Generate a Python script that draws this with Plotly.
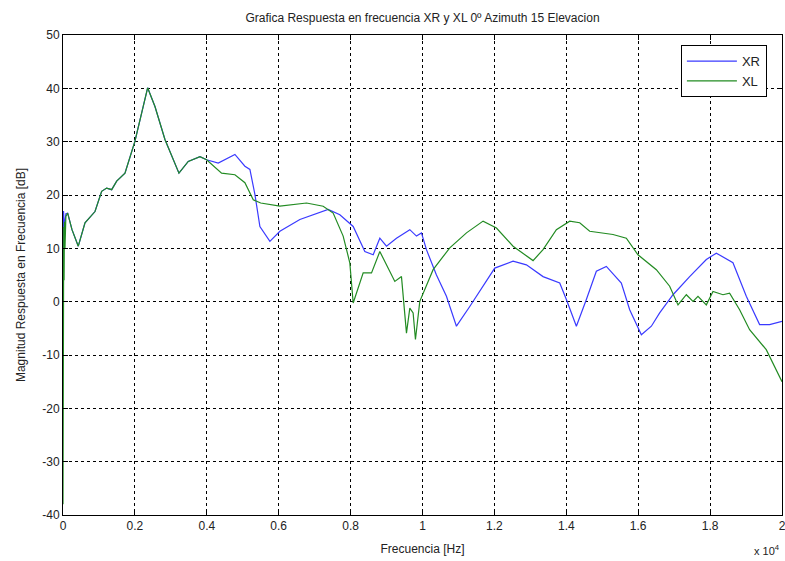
import plotly.graph_objects as go

# XR (right ear) response
xr_freq = [0, 15, 40, 80, 130, 250, 425, 612, 890, 1075, 1214, 1354, 1493, 1724, 2002,
           2354, 2558, 2836, 3225, 3484, 3809, 3994, 4318, 4782, 5060, 5199, 5338, 5477,
           5755, 6033, 6589, 7376, 7701, 8072, 8396, 8628, 8813, 8998, 9276, 9647, 9832,
           9971, 10110, 10388, 10666, 10944, 11315, 11685, 12010, 12519, 12890, 13353,
           13817, 14002, 14280, 14558, 14836, 15114, 15531, 15763, 16088, 16366, 16597,
           16968, 17431, 17895, 18173, 18636, 19007, 19377, 19655, 20000]
xr_db = [1.5, 17, 14, 16.5, 16.6, 13.5, 10.4, 14.8, 16.9, 20.7, 21.3, 21, 22.6, 24.1, 30.1,
         40.1, 36.6, 30.4, 24.1, 26.3, 27.2, 26.6, 26.0, 27.6, 25.4, 24.8, 20.1, 14.1,
         11.3, 13.2, 15.4, 17.3, 16.3, 14.1, 9.4, 8.8, 11.9, 10.4, 11.9, 13.5, 12.3,
         12.9, 9.75, 5.0, 1.0, -4.6, -0.9, 2.9, 6.3, 7.6, 6.9, 4.7,
         3.5, 0.4, -4.6, 0.4, 5.7, 6.6, 3.5, -1.5, -6.2, -4.6, -2.1,
         1.3, 4.7, 7.9, 9.1, 7.3, 1.0, -4.3, -4.3, -3.7]

# XL (left ear) response
xl_freq = [0, 10, 20, 30, 40, 55, 80, 130, 250, 425, 612, 890, 1075, 1214, 1354, 1493,
           1724, 2002, 2354, 2558, 2836, 3225, 3484, 3809, 3994, 4411, 4782, 5060, 5292,
           5500, 6033, 6774, 7237, 7515, 7793, 7978, 8072, 8350, 8582, 8813, 9230, 9415,
           9554, 9647, 9739, 9804, 9925, 10295, 10759, 11223, 11685, 12057, 12519, 12890,
           13075, 13353, 13724, 14095, 14373, 14651, 15299, 15670, 15994, 16505, 16875,
           17107, 17339, 17525, 17663, 17895, 18080, 18358, 18543, 18821, 19099, 19562, 20000]
xl_db = [-38, 2, 14, 4, 15, 10, 16, 16.6, 13.5, 10.4, 14.8, 16.9, 20.7, 21.3, 21, 22.6,
         24.1, 30.1, 40.1, 36.6, 30.4, 24.1, 26.3, 27.2, 26.6, 24.1, 23.8, 22.3, 19.1,
         18.5, 17.9, 18.5, 17.9, 16.6, 12.3, 7.3, -0.25, 5.4, 5.4, 9.4, 3.8, 4.7,
         -5.9, -1.2, -2.1, -7.1, 0.06, 6.0, 10.1, 12.9, 15.1, 13.8, 10.4, 8.5,
         7.7, 9.75, 13.5, 15.1, 14.8, 13.2, 12.6, 11.9, 8.8, 6.0, 2.9,
         -0.6, 1.3, 0.06, 1.0, -0.6, 1.9, 1.3, 1.6, -1.5, -5.25, -9.0, -15]

x_tickvals = [0, 2000, 4000, 6000, 8000, 10000, 12000, 14000, 16000, 18000, 20000]
x_ticktext = ["0", "0.2", "0.4", "0.6", "0.8", "1", "1.2", "1.4", "1.6", "1.8", "2"]
y_tickvals = [-40, -30, -20, -10, 0, 10, 20, 30, 40, 50]
y_ticktext = ["-40", "-30", "-20", "-10", "0", "10", "20", "30", "40", "50"]

FONT = "Liberation Sans, Arial, sans-serif"

fig = go.Figure()
fig.add_trace(go.Scatter(x=xr_freq, y=xr_db, mode="lines", name="XR",
                         line=dict(color="#3a3aff", width=1.2)))
fig.add_trace(go.Scatter(x=xl_freq, y=xl_db, mode="lines", name="XL",
                         line=dict(color="#228b22", width=1.2)))

axis_common = dict(showline=True, linecolor="black", linewidth=1, mirror="ticks",
                   ticks="inside", ticklen=5, tickcolor="black", automargin=False,
                   ticklabeloverflow="allow",
                   showgrid=True, gridcolor="black", gridwidth=1, griddash="3px,3px",
                   zeroline=False, tickfont=dict(family=FONT, size=12, color="#222"))

W, H = 785, 561
fig.update_layout(
    width=W, height=H,
    paper_bgcolor="white", plot_bgcolor="white",
    margin=dict(l=63, r=3, t=35, b=46),
    title=dict(text="Grafica Respuesta en frecuencia XR y XL 0º Azimuth 15 Elevacion",
               x=(63 + 782) / 2 / W, xanchor="center", y=1 - 18 / H, yanchor="middle",
               font=dict(family=FONT, size=12, color="#222")),
    xaxis=dict(range=[0, 20000], tickvals=x_tickvals, ticktext=x_ticktext,
               title=dict(text="Frecuencia [Hz]", standoff=12,
                          font=dict(family=FONT, size=12, color="#222")),
               **axis_common),
    yaxis=dict(range=[-40, 50], tickvals=y_tickvals, ticktext=y_ticktext,
               title=dict(text="Magnitud Respuesta en Frecuencia [dB]", standoff=14,
                          font=dict(family=FONT, size=12, color="#222")),
               **axis_common),
    legend=dict(x=0.979, y=0.979, xanchor="right", yanchor="top",
                bgcolor="white", bordercolor="black", borderwidth=1,
                itemwidth=50,
                font=dict(family=FONT, size=13, color="#222")),
    showlegend=True,
)

fig.add_annotation(text="x 10<sup>4</sup>", xref="paper", yref="paper",
                   x=1.0, y=-0.055, xanchor="right", yanchor="top", showarrow=False,
                   font=dict(family=FONT, size=11, color="#222"))

fig.write_html("out.html", config={"displayModeBar": False},
               post_script="document.body.style.margin='0';document.body.style.overflow='hidden';")
